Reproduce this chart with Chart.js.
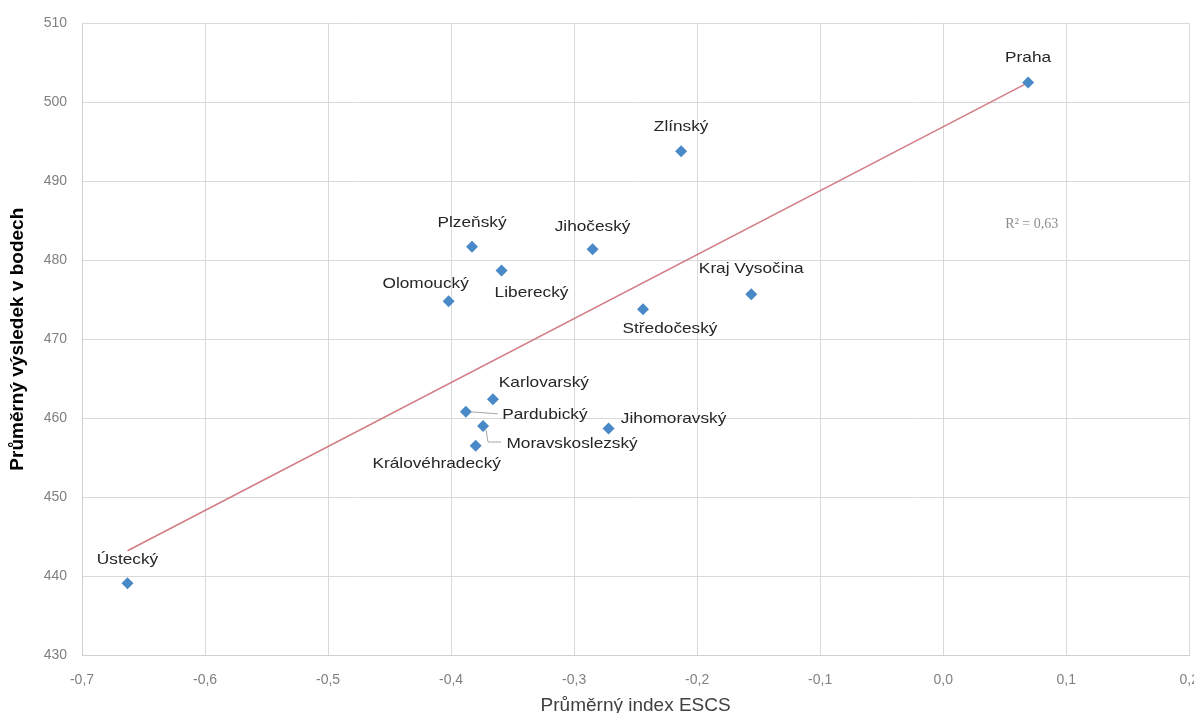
<!DOCTYPE html>
<html>
<head>
<meta charset="utf-8">
<script src="https://cdn.jsdelivr.net/npm/chart.js@4/dist/chart.umd.min.js"></script>
<style>
  html, body { margin: 0; padding: 0; background: #fff; overflow: hidden; }
  #wrap { position: absolute; left: 0; top: 0; width: 1216px; height: 717px; }
</style>
</head>
<body>
<div id="wrap"><canvas id="chart"></canvas></div>
<script>
// data
const regions = ['Praha', 'Zlínský', 'Jihočeský', 'Plzeňský', 'Liberecký', 'Olomoucký', 'Středočeský',
  'Kraj Vysočina', 'Karlovarský', 'Pardubický', 'Moravskoslezský', 'Královéhradecký', 'Jihomoravský', 'Ústecký'];
const escs = [0.069, -0.213, -0.285, -0.383, -0.359, -0.402, -0.244,
  -0.156, -0.366, -0.388, -0.374, -0.380, -0.272, -0.663];
const score = [502.5, 493.8, 481.4, 481.7, 478.7, 474.8, 473.8,
  475.7, 462.4, 460.8, 459.0, 456.5, 458.7, 439.1];
const trendEscs = [-0.663, 0.069];
const trendScore = [443.2, 502.5];
const r2Label = 'R² = 0,63';
const xTicks = [-0.7, -0.6, -0.5, -0.4, -0.3, -0.2, -0.1, 0.0, 0.1, 0.2];
const yTicks = [430, 440, 450, 460, 470, 480, 490, 500, 510];

// label placement (pixels from the marker), per region
const labelOffsets = {
  'Praha': [0, -25], 'Zlínský': [0, -24], 'Jihočeský': [0, -22], 'Plzeňský': [0, -24],
  'Liberecký': [30, 22], 'Olomoucký': [-23, -17], 'Středočeský': [27, 20], 'Kraj Vysočina': [0, -25],
  'Karlovarský': [51, -16], 'Pardubický': [79, 3], 'Moravskoslezský': [89, 18],
  'Královéhradecký': [-39, 18], 'Jihomoravský': [65, -10], 'Ústecký': [0, -23]
};

const fmt = v => (Math.abs(v) < 1e-9 ? 0 : v).toFixed(1).replace('.', ',');

// draws the point labels, leader lines and the R² note
const labelPlugin = {
  id: 'pointLabels',
  afterDatasetsDraw(chart) {
    const ctx = chart.ctx;
    const pts = chart.getDatasetMeta(0).data;
    ctx.save();
    // leader lines
    ctx.strokeStyle = '#a6a6a6';
    ctx.lineWidth = 1;
    const pa = pts[regions.indexOf('Pardubický')];
    ctx.beginPath();
    ctx.moveTo(pa.x + 5, pa.y);
    ctx.lineTo(pa.x + 32, pa.y + 2);
    ctx.stroke();
    const mo = pts[regions.indexOf('Moravskoslezský')];
    ctx.beginPath();
    ctx.moveTo(mo.x + 3, mo.y + 4);
    ctx.lineTo(mo.x + 5, mo.y + 16);
    ctx.lineTo(mo.x + 18, mo.y + 16);
    ctx.stroke();

    // the source picture is a bit stretched sideways, so the text is too
    ctx.font = '15px "Liberation Sans", Arial, sans-serif';
    ctx.fillStyle = '#262626';
    ctx.textAlign = 'center';
    ctx.textBaseline = 'middle';
    regions.forEach((name, i) => {
      const p = pts[i];
      const off = labelOffsets[name];
      ctx.save();
      ctx.translate(p.x + off[0], p.y + off[1]);
      ctx.scale(1.15, 1);
      ctx.fillText(name, 0, 0);
      ctx.restore();
    });

    const xs = chart.scales.x, ys = chart.scales.y;
    ctx.font = '14px "Liberation Serif", serif';
    ctx.fillStyle = '#8c8c8c';
    ctx.fillText(r2Label, xs.getPixelForValue(0.072), ys.getPixelForValue(484.5));
    ctx.restore();
  }
};

new Chart(document.getElementById('chart'), {
  type: 'scatter',
  data: {
    datasets: [
      {
        label: 'Kraje',
        data: escs.map((x, i) => ({ x: x, y: score[i] })),
        pointStyle: 'rectRot',
        pointRadius: 6,
        pointHoverRadius: 6,
        backgroundColor: '#4a89c8',
        borderColor: '#4a89c8',
        borderWidth: 0,
        order: 1
      },
      {
        label: 'Trend',
        type: 'line',
        data: trendEscs.map((x, i) => ({ x: x, y: trendScore[i] })),
        borderColor: 'rgba(205, 110, 120, 0.9)',
        borderWidth: 1.5,
        pointRadius: 0,
        fill: false,
        order: 2
      }
    ]
  },
  options: {
    responsive: true,
    maintainAspectRatio: false,
    animation: false,
    devicePixelRatio: 1,
    layout: { padding: { left: 0, right: 0, top: 23, bottom: 0 } },
    plugins: { legend: { display: false }, tooltip: { enabled: false } },
    scales: {
      x: {
        type: 'linear',
        min: -0.7,
        max: 0.2,
        afterBuildTicks: s => { s.ticks = xTicks.map(v => ({ value: v })); },
        afterFit: s => { s.height = 62; },
        grid: { color: '#d9d9d9', drawTicks: false },
        border: { color: '#d0d0d0' },
        ticks: {
          padding: 17,
          color: '#808080',
          font: { family: '"Liberation Sans", Arial, sans-serif', size: 14 },
          callback: v => fmt(v)
        },
        title: {
          display: true,
          text: 'Průměrný index ESCS',
          color: '#404040',
          padding: { top: 0, bottom: 0 },
          font: { family: '"Liberation Sans", Arial, sans-serif', size: 19 }
        }
      },
      y: {
        min: 430,
        max: 510,
        afterBuildTicks: s => { s.ticks = yTicks.map(v => ({ value: v })); },
        afterFit: s => { s.width = 82; },
        grid: { color: '#d9d9d9', drawTicks: false },
        border: { color: '#d0d0d0' },
        ticks: {
          padding: 15,
          color: '#808080',
          font: { family: '"Liberation Sans", Arial, sans-serif', size: 14 }
        },
        title: {
          display: true,
          text: 'Průměrný výsledek v bodech',
          color: '#000',
          padding: { top: 6, bottom: 0 },
          font: { family: '"Liberation Sans", Arial, sans-serif', size: 19, weight: 'bold' }
        }
      }
    }
  },
  plugins: [labelPlugin]
});
</script>
</body>
</html>
